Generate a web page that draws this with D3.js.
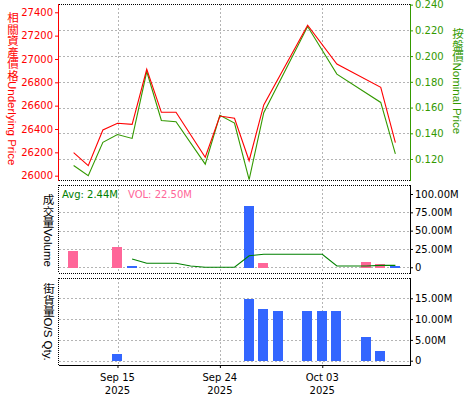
<!DOCTYPE html>
<html>
<head>
<meta charset="utf-8">
<script src="https://cdn.jsdelivr.net/npm/d3@7"></script>
<style>
body { margin: 0; background: #fff; }
svg text { font-family: "DejaVu Sans", sans-serif; font-size: 10px; }
.vlabel { font-family: "Liberation Sans", "Noto Sans CJK TC", sans-serif !important; font-size: 11.5px !important; writing-mode: vertical-rl; text-orientation: mixed; }
</style>
</head>
<body>
<svg id="chart" width="475" height="400"></svg>
<script>
// weekday slots used for the x axis
var slots = ["2025-09-09", "2025-09-10", "2025-09-11", "2025-09-12", "2025-09-15", "2025-09-16",
    "2025-09-17", "2025-09-18", "2025-09-19", "2025-09-22", "2025-09-23", "2025-09-24",
    "2025-09-25", "2025-09-26", "2025-09-29", "2025-09-30", "2025-10-01", "2025-10-02",
    "2025-10-03", "2025-10-06", "2025-10-07", "2025-10-08", "2025-10-09", "2025-10-10", "2025-10-13"];

// top panel: underlying price and nominal price
var priceDates = ["2025-09-10", "2025-09-11", "2025-09-12", "2025-09-15", "2025-09-16", "2025-09-17",
    "2025-09-18", "2025-09-19", "2025-09-23", "2025-09-24", "2025-09-25", "2025-09-26",
    "2025-09-29", "2025-10-02", "2025-10-06", "2025-10-09", "2025-10-10"];
var underlying = [26197, 26086, 26392, 26449, 26440, 26912, 26543, 26543, 26158, 26511, 26492, 26128,
    26606, 27289, 26957, 26757, 26283];
var nominal = [0.115, 0.107, 0.133, 0.139, 0.136, 0.188, 0.150, 0.149, 0.116, 0.154, 0.148, 0.104,
    0.156, 0.223, 0.186, 0.164, 0.124];

// middle panel: volume (millions)
var volDates = ["2025-09-10", "2025-09-15", "2025-09-16", "2025-09-26", "2025-09-29", "2025-10-08", "2025-10-09", "2025-10-10"];
var volumes = [22.2, 27.7, 1.8, 83.6, 5.9, 7.2, 4.5, 1.8];
var volGroup = ["A", "A", "B", "B", "A", "A", "A", "B"];
var avgDates = ["2025-09-16", "2025-09-17", "2025-09-18", "2025-09-19", "2025-09-22", "2025-09-23",
    "2025-09-24", "2025-09-25", "2025-09-26", "2025-09-29", "2025-09-30", "2025-10-01", "2025-10-02",
    "2025-10-03", "2025-10-06", "2025-10-07", "2025-10-08", "2025-10-09", "2025-10-10"];
var avgVolume = [11.3, 5.5, 5.5, 5.5, 1.8, 0, 0, 0, 15.8, 17.7, 17.7, 17.7, 17.7, 17.7, 1.8, 1.8, 1.8, 2.6, 2.6];
var avgLabel = "Avg: 2.44M";
var volLabel = "VOL: 22.50M";

// bottom panel: outstanding quantity (millions)
var osDates = ["2025-09-15", "2025-09-26", "2025-09-29", "2025-09-30", "2025-10-02", "2025-10-03", "2025-10-06", "2025-10-08", "2025-10-09"];
var osQty = [1.6, 14.8, 12.4, 11.9, 11.9, 11.9, 11.9, 5.7, 2.3];

// ticks
var underlyingTicks = [26000, 26200, 26400, 26600, 26800, 27000, 27200, 27400];
var nominalTicks = [0.12, 0.14, 0.16, 0.18, 0.20, 0.22, 0.24];
var volumeTicks = [0, 25, 50, 75, 100];
var osTicks = [0, 5, 10, 15];
var dateTicks = ["2025-09-15", "2025-09-24", "2025-10-03"];
var dateTickLabels = [["Sep 15", "2025"], ["Sep 24", "2025"], ["Oct 03", "2025"]];

var svg = d3.select("#chart");
var left = 59, right = 410;

var x = d3.scalePoint().domain(slots).range([left, right]);
var yU = d3.scaleLinear().domain([25963, 27471]).range([180, 4]);
var yN = d3.scaleLinear().domain([0.1037, 0.2405]).range([180, 4]);
var yV = d3.scaleLinear().domain([-8.5, 112.3]).range([273.5, 185]);
var yO = d3.scaleLinear().domain([-1.27, 19.8]).range([366, 278.3]);

var gridColor = "#b4b4b4";

function hGrid(scale, ticks, y0, y1) {
    svg.append("g").selectAll("line")
        .data(ticks)
        .enter()
        .append("line")
        .attr("x1", left).attr("x2", right)
        .attr("y1", function (d) { return Math.round(scale(d)) + 0.5; })
        .attr("y2", function (d) { return Math.round(scale(d)) + 0.5; })
        .attr("stroke", gridColor)
        .style("stroke-dasharray", "2,2");
    svg.append("g").selectAll("line")
        .data(dateTicks)
        .enter()
        .append("line")
        .attr("x1", function (d) { return Math.round(x(d)) + 0.5; })
        .attr("x2", function (d) { return Math.round(x(d)) + 0.5; })
        .attr("y1", y0).attr("y2", y1)
        .attr("stroke", gridColor)
        .style("stroke-dasharray", "2,2");
}

function dotted(x1, y1, x2, y2) {
    svg.append("line")
        .attr("x1", x1).attr("y1", y1).attr("x2", x2).attr("y2", y2)
        .attr("stroke", "#000")
        .style("stroke-dasharray", "1,1");
}

// grids
hGrid(yN, nominalTicks.filter(function (d) { return d < 0.235; }), 4, 180);
hGrid(yV, volumeTicks.filter(function (d) { return d < 90; }), 185, 273);
hGrid(yO, osTicks, 278, 365);

// panel borders
dotted(left, 4.5, right, 4.5);
dotted(left, 180.5, right, 180.5);
dotted(left, 185.5, right, 185.5);
dotted(left, 273.5, right, 273.5);
dotted(58.5, 185, 58.5, 273);
dotted(left, 278.5, right, 278.5);
dotted(58.5, 278, 58.5, 365);

// ---- top panel lines
var priceData = priceDates.map(function (d, i) { return { date: d, u: underlying[i], n: nominal[i] }; });

svg.append("path")
    .datum(priceData)
    .attr("fill", "none")
    .attr("stroke", "#339900")
    .attr("stroke-width", 1.1)
    .attr("d", d3.line().x(function (d) { return x(d.date); }).y(function (d) { return yN(d.n); }));

svg.append("path")
    .datum(priceData)
    .attr("fill", "none")
    .attr("stroke", "#ff0000")
    .attr("stroke-width", 1.1)
    .attr("d", d3.line().x(function (d) { return x(d.date); }).y(function (d) { return yU(d.u); }));

// left axis (underlying)
var axU = svg.append("g")
    .attr("transform", "translate(58,0)")
    .call(d3.axisLeft(yU).tickValues(underlyingTicks).tickSize(3).tickSizeOuter(0).tickPadding(2).tickFormat(d3.format("d")));
axU.select(".domain").remove();
axU.selectAll("line").attr("stroke", "#ff0000");
axU.selectAll("text").attr("fill", "#ff0000").style("font-size", "10px").style("font-family", "DejaVu Sans");
svg.append("line").attr("x1", 58.5).attr("x2", 58.5).attr("y1", 4).attr("y2", 181).attr("stroke", "#ff0000");

// right axis (nominal)
var axN = svg.append("g")
    .attr("transform", "translate(410,0)")
    .call(d3.axisRight(yN).tickValues(nominalTicks).tickSize(3).tickSizeOuter(0).tickPadding(2).tickFormat(d3.format(".3f")));
axN.select(".domain").remove();
axN.selectAll("line").attr("stroke", "#339900");
axN.selectAll("text").attr("fill", "#339900").style("font-size", "10px").style("font-family", "DejaVu Sans");
svg.append("line").attr("x1", 410.5).attr("x2", 410.5).attr("y1", 4).attr("y2", 181).attr("stroke", "#339900");

// ---- volume panel
var volData = volDates.map(function (d, i) { return { date: d, v: volumes[i], g: volGroup[i] }; });
var groupColor = { A: "#ff6699", B: "#3366ff" };

svg.append("g").selectAll("rect")
    .data(volData)
    .enter()
    .append("rect")
    .attr("x", function (d) { return Math.round(x(d.date) - 5.5); })
    .attr("width", 10)
    .attr("y", function (d) { return yV(d.v); })
    .attr("height", function (d) { return yV(0) - yV(d.v) + 0.5; })
    .attr("fill", function (d) { return groupColor[d.g]; })
    .attr("shape-rendering", "crispEdges");

var avgData = avgDates.map(function (d, i) { return { date: d, v: avgVolume[i] }; });
svg.append("path")
    .datum(avgData)
    .attr("fill", "none")
    .attr("stroke", "#008000")
    .attr("stroke-width", 1.1)
    .attr("d", d3.line().x(function (d) { return x(d.date); }).y(function (d) { return yV(d.v); }));

var axV = svg.append("g")
    .attr("transform", "translate(410,0)")
    .call(d3.axisRight(yV).tickValues(volumeTicks).tickSize(3).tickSizeOuter(0).tickPadding(2)
        .tickFormat(function (d) { return d === 0 ? "0" : d.toFixed(2) + "M"; }));
axV.select(".domain").remove();
axV.selectAll("text").style("font-size", "10px").style("font-family", "DejaVu Sans");
svg.append("line").attr("x1", 410.5).attr("x2", 410.5).attr("y1", 185).attr("y2", 274).attr("stroke", "#000");

svg.append("text").attr("x", 62).attr("y", 197.5).attr("fill", "#008000").text(avgLabel);
svg.append("text").attr("x", 128).attr("y", 197.5).attr("fill", "#ff6699").text(volLabel);

// ---- outstanding quantity panel
var osData = osDates.map(function (d, i) { return { date: d, v: osQty[i] }; });
svg.append("g").selectAll("rect")
    .data(osData)
    .enter()
    .append("rect")
    .attr("x", function (d) { return Math.round(x(d.date) - 5.5); })
    .attr("width", 10)
    .attr("y", function (d) { return yO(d.v); })
    .attr("height", function (d) { return yO(0) - yO(d.v) + 0.5; })
    .attr("fill", "#3366ff")
    .attr("shape-rendering", "crispEdges");

var axO = svg.append("g")
    .attr("transform", "translate(410,0)")
    .call(d3.axisRight(yO).tickValues(osTicks).tickSize(3).tickSizeOuter(0).tickPadding(2)
        .tickFormat(function (d) { return d === 0 ? "0" : d.toFixed(2) + "M"; }));
axO.select(".domain").remove();
axO.selectAll("text").style("font-size", "10px").style("font-family", "DejaVu Sans");
svg.append("line").attr("x1", 410.5).attr("x2", 410.5).attr("y1", 278).attr("y2", 366).attr("stroke", "#000");

// bottom date axis
var axX = svg.append("g")
    .attr("transform", "translate(0,365)")
    .call(d3.axisBottom(x).tickValues(dateTicks).tickSize(3).tickSizeOuter(0).tickFormat(""));
axX.select(".domain").attr("d", "M" + left + ",0.5H" + (right + 1));
var xl = svg.append("g").selectAll("text")
    .data(dateTicks)
    .enter()
    .append("text")
    .attr("text-anchor", "middle")
    .attr("x", function (d) { return x(d); })
    .attr("y", 380.5);
xl.append("tspan").attr("x", function (d) { return x(d); }).text(function (d, i) { return dateTickLabels[i][0]; });
xl.append("tspan").attr("x", function (d) { return x(d); }).attr("dy", 13).text(function (d, i) { return dateTickLabels[i][1]; });

// vertical axis titles
svg.append("text").attr("class", "vlabel").attr("x", 12).attr("y", 12).attr("fill", "#ff0000").text("相關資產價格Underlying Price");
svg.append("text").attr("class", "vlabel").attr("x", 457).attr("y", 28).attr("fill", "#339900").text("按盤價Nominal Price");
svg.append("text").attr("class", "vlabel").attr("x", 47.5).attr("y", 194).attr("fill", "#000").text("成交量Volume");
svg.append("text").attr("class", "vlabel").attr("x", 48).attr("y", 283).attr("fill", "#000").text("街貨量O/S Qty.");
</script>
</body>
</html>
